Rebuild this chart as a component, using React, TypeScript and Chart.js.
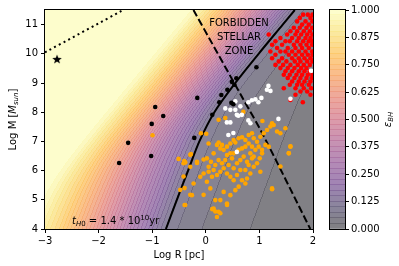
import React, { useEffect, useRef } from 'react';
import { Chart, registerables } from 'chart.js';

Chart.register(...registerables);

// ---------- axes / ticks ----------
const X_MIN = -3, X_MAX = 2, Y_MIN = 4, Y_MAX = 11.5;
const X_TICKS = [-3, -2, -1, 0, 1, 2];
const Y_TICKS = [4, 5, 6, 7, 8, 9, 10, 11];
const CB_TICKS = [0, 0.125, 0.25, 0.375, 0.5, 0.625, 0.75, 0.875, 1];
const CONTOUR_BANDS = 40;

// ---------- background field (two power-law terms, eps lookup) ----------
const TERM_GEOM = [1.5, -3.3, -11.772];   // coef logM, coef logR, const
const TERM_FOCUS = [0.5, -2.5, -3.86];
const G_KNOTS = [-12, -6.5, -3.95, -1.7, -0.57, 0, 0.5, 1, 1.5, 2, 2.5, 3, 3.5, 4, 4.5, 5, 5.5, 6, 6.5, 9];
const EPS_KNOTS = [0, 0.012, 0.025, 0.05, 0.075, 0.1, 0.16, 0.23, 0.3, 0.38, 0.46, 0.54, 0.62, 0.69, 0.76, 0.83, 0.89, 0.95, 0.99, 1.0];

// ---------- lines ----------
const SOLID_R = [-0.744, -0.54, -0.33, -0.12, 0.16, 0.55, 0.985, 1.435, 1.66];
const SOLID_M = [4, 5, 6, 7, 8, 9, 10, 11, 11.5];
const DASHED_R = [-0.23, 0.706, 1.05, 1.95];
const DASHED_M = [11.5, 8.42, 7.29, 4.0];
const DOTTED_R = [-3, -1.54];
const DOTTED_M = [10.05, 11.5];

// ---------- scatter groups ----------
const STAR_POINTS: [number, number][] = [[-2.776, 9.82]];
const BLACK_POINTS: [number, number][] = [
  [-0.944, 8.18], [-0.794, 7.87], [-1.009, 7.60], [-1.449, 6.95], [-1.617, 6.26], [-1.019, 6.50],
  [-0.159, 8.49], [-0.215, 7.12], [0.121, 7.91], [0.252, 8.34], [0.402, 8.77], [0.944, 9.54],
  [0.570, 9.16], [0.486, 9.04], [0.533, 8.94], [0.290, 8.59], [0.477, 8.32], [0.514, 8.27],
];
const WHITE_POINTS: [number, number][] = [
  [1.168, 8.90], [1.140, 8.77], [1.206, 8.73], [1.037, 8.49], [0.925, 8.44], [0.860, 8.41],
  [0.645, 8.20], [0.551, 8.08], [0.458, 8.08], [0.364, 8.13], [0.579, 7.91], [0.673, 7.91],
  [1.355, 7.77], [1.579, 8.46], [1.963, 9.42], [0.551, 8.37], [0.794, 8.34], [0.981, 8.34],
  [0.607, 7.88], [0.794, 7.72], [0.832, 7.62], [0.393, 7.65], [0.458, 7.65], [0.421, 7.22],
  [0.514, 7.29], [0.579, 6.64],
];
const ORANGE_POINTS: [number, number][] = [
  [-0.415, 6.25], [-0.402, 6.33], [-0.290, 6.13], [-0.165, 6.30], [-0.091, 7.28], [0.009, 7.26],
  [-0.041, 6.38], [0.021, 6.42], [0.096, 6.30], [0.053, 6.13], [0.146, 6.59], [0.208, 6.88],
  [0.239, 6.96], [0.271, 6.76], [0.302, 6.88], [0.333, 6.71], [0.395, 6.82], [0.458, 6.93],
  [0.520, 7.05], [0.551, 6.96], [0.613, 7.11], [0.676, 7.14], [0.738, 7.05], [0.800, 7.22],
  [0.862, 7.28], [0.894, 7.11], [0.956, 6.99], [1.018, 7.16], [1.081, 7.28], [1.143, 7.39],
  [1.205, 7.51], [1.236, 7.62], [1.267, 7.56], [1.330, 7.34], [1.392, 7.28], [1.485, 7.45],
  [1.579, 6.82], [1.548, 6.59], [1.174, 6.82], [1.112, 6.88], [1.049, 6.71], [1.006, 6.42],
  [1.018, 5.96], [0.956, 6.25], [0.894, 6.13], [0.831, 5.90], [0.769, 5.73], [0.738, 5.56],
  [0.676, 5.67], [0.613, 5.45], [0.551, 5.33], [0.458, 5.16], [0.395, 4.87], [0.333, 5.27],
  [0.271, 4.99], [0.177, 4.99], [0.146, 4.70], [0.208, 4.41], [0.239, 4.59], [0.084, 5.39],
  [0.021, 5.62], [-0.041, 5.90], [-0.103, 5.79], [-0.228, 5.56], [-0.259, 5.16], [-0.384, 4.82],
  [0.364, 6.36], [0.426, 6.19], [0.489, 6.42], [0.520, 6.08], [0.582, 6.25], [0.644, 6.36],
  [0.707, 6.48], [0.769, 6.30], [0.831, 6.59], [0.894, 6.48], [0.333, 6.08], [0.395, 5.90],
  [0.458, 5.79], [0.271, 5.96], [0.208, 5.85], [0.146, 6.02], [0.302, 6.25], [0.239, 6.36],
  [0.177, 6.19], [0.115, 5.79], [0.053, 5.96], [0.520, 5.67], [0.582, 5.85], [0.644, 6.02],
  [0.738, 6.02], [0.800, 6.19], [0.862, 6.42], [0.925, 6.71], [0.987, 6.82], [1.049, 6.59],
  [1.236, 5.39], [0.458, 6.59], [0.520, 6.59], [0.395, 6.53], [0.613, 6.71], [0.676, 6.76],
  [0.738, 6.82], [0.800, 6.93], [0.862, 6.82],
  [-0.994, 7.21], [-0.508, 6.40], [-0.383, 6.28], [-0.290, 6.54], [-0.164, 6.26], [-0.415, 5.80],
  [-0.477, 5.34], [-0.396, 5.40], [-0.290, 5.17], [-0.396, 4.82], [0.178, 4.60], [0.271, 4.54],
  [0.121, 4.68], [0.396, 4.82], [-0.041, 5.17], [1.237, 5.36], [1.579, 6.83], [1.548, 6.60],
  [1.393, 6.14], [0.239, 7.74], [0.052, 6.93], [-0.277, 6.57], [0.364, 7.80], [0.70, 8.01],
  [1.056, 7.70],
];
const RED_POINTS: [number, number][] = [
  [1.816, 11.34], [1.903, 11.34], [1.99, 11.34],
  [1.754, 11.23], [1.953, 11.23],
  [1.704, 11.11], [1.860, 11.11], [1.99, 11.11],
  [1.797, 11.00], [1.922, 11.00],
  [1.642, 10.89], [1.754, 10.89], [1.878, 10.89], [1.984, 10.89],
  [1.579, 10.77], [1.704, 10.77], [1.828, 10.77], [1.941, 10.77],
  [1.174, 10.66], [1.517, 10.66], [1.673, 10.66], [1.779, 10.66], [1.891, 10.66], [1.99, 10.66],
  [1.392, 10.54], [1.610, 10.54], [1.735, 10.54], [1.860, 10.54], [1.953, 10.54],
  [1.299, 10.43], [1.486, 10.43], [1.567, 10.43], [1.704, 10.43], [1.816, 10.43], [1.922, 10.43], [1.99, 10.43],
  [1.237, 10.31], [1.423, 10.31], [1.642, 10.31], [1.766, 10.31], [1.878, 10.31], [1.984, 10.31],
  [1.330, 10.20], [1.529, 10.20], [1.673, 10.20], [1.797, 10.20], [1.922, 10.20],
  [1.205, 10.08], [1.392, 10.08], [1.486, 10.08], [1.610, 10.08], [1.735, 10.08], [1.860, 10.08], [1.984, 10.08],
  [1.299, 9.97], [1.548, 9.97], [1.673, 9.97], [1.797, 9.97], [1.903, 9.97], [1.99, 9.97],
  [1.237, 9.85], [1.423, 9.85], [1.610, 9.85], [1.735, 9.85], [1.841, 9.85], [1.953, 9.85],
  [1.361, 9.74], [1.504, 9.74], [1.660, 9.74], [1.766, 9.74], [1.891, 9.74], [1.99, 9.74],
  [1.299, 9.62], [1.442, 9.62], [1.579, 9.62], [1.716, 9.62], [1.828, 9.62], [1.941, 9.62],
  [1.392, 9.51], [1.529, 9.51], [1.654, 9.51], [1.779, 9.51], [1.878, 9.51],
  [1.486, 9.40], [1.610, 9.40], [1.735, 9.40], [1.841, 9.40], [1.941, 9.40],
  [1.455, 9.28], [1.567, 9.28], [1.691, 9.28], [1.797, 9.28], [1.903, 9.28], [1.99, 9.28],
  [1.529, 9.17], [1.654, 9.17], [1.766, 9.17], [1.878, 9.17], [1.984, 9.17],
  [1.610, 9.05], [1.735, 9.05], [1.841, 9.05], [1.953, 9.05],
  [1.567, 8.94], [1.704, 8.94], [1.797, 8.94], [1.922, 8.94],
  [1.455, 8.82], [1.673, 8.82], [1.828, 8.82], [1.966, 8.82],
  [1.766, 8.71], [1.891, 8.71],
  [1.673, 8.60], [1.953, 8.60],
  [1.579, 8.42], [1.81, 8.34],
];

// ---------- annotations ----------
const ZONE_LINES = ['FORBIDDEN', 'STELLAR', 'ZONE'];
const ZONE_R = 0.62;
const ZONE_M = [10.94, 10.47, 9.99];
const TH_R = -2.496, TH_M = 4.17;

// ---------- colours ----------
const INFERNO = ['#000004', '#160b39', '#420a68', '#6a176e', '#932667', '#bc3754', '#dd513a', '#f37819', '#fca50a', '#f6d746', '#fcffa4'];
const INF_RGB = INFERNO.map(h => [parseInt(h.slice(1, 3), 16), parseInt(h.slice(3, 5), 16), parseInt(h.slice(5, 7), 16)]);
function inferno(t: number): number[] {
  const c = Math.max(0, Math.min(1, t)) * 10;
  const i = Math.min(9, Math.floor(c));
  const f = c - i;
  const a = INF_RGB[i], b = INF_RGB[i + 1];
  return [a[0] + (b[0] - a[0]) * f, a[1] + (b[1] - a[1]) * f, a[2] + (b[2] - a[2]) * f];
}
const FILL_ALPHA = 0.5;
const SEAM_ALPHA = 0.6;
function over(c: number[], a: number) { return c.map(v => Math.round(v * a + 255 * (1 - a))); }
const BAND_RGB: number[][] = [];
const SEAM_RGB: number[][] = [];
for (let k = 0; k < CONTOUR_BANDS; k++) {
  BAND_RGB.push(over(inferno((k + 0.5) / CONTOUR_BANDS), FILL_ALPHA));
  SEAM_RGB.push(over(inferno(k / CONTOUR_BANDS), SEAM_ALPHA));
}
const rgbStr = (c: number[]) => `rgb(${c[0]},${c[1]},${c[2]})`;

function interp(xs: number[], ys: number[], v: number) {
  if (v <= xs[0]) return ys[0];
  for (let i = 1; i < xs.length; i++) {
    if (v <= xs[i]) {
      const f = (v - xs[i - 1]) / (xs[i] - xs[i - 1]);
      return ys[i - 1] + (ys[i] - ys[i - 1]) * f;
    }
  }
  return ys[ys.length - 1];
}
function epsAt(R: number, M: number) {
  const t1 = TERM_GEOM[0] * M + TERM_GEOM[1] * R + TERM_GEOM[2];
  const t2 = TERM_FOCUS[0] * M + TERM_FOCUS[1] * R + TERM_FOCUS[2];
  const hi = Math.max(t1, t2), lo = Math.min(t1, t2);
  const g = hi + Math.log10(1 + Math.pow(10, lo - hi));
  return interp(G_KNOTS, EPS_KNOTS, g);
}
function bandOf(e: number) {
  return Math.max(0, Math.min(CONTOUR_BANDS - 1, Math.floor(e * CONTOUR_BANDS)));
}

const FONT = '"DejaVu Sans"';
type Part = { t: string; f: string; dy?: number };
function drawParts(ctx: CanvasRenderingContext2D, parts: Part[], x: number, y: number, center: boolean) {
  let total = 0;
  for (const p of parts) { ctx.font = p.f; total += ctx.measureText(p.t).width; }
  let cx = center ? x - total / 2 : x;
  ctx.textAlign = 'left';
  ctx.textBaseline = 'alphabetic';
  for (const p of parts) {
    ctx.font = p.f;
    ctx.fillText(p.t, cx, y + (p.dy || 0));
    cx += ctx.measureText(p.t).width;
  }
}

function makeStar(size: number) {
  const c = document.createElement('canvas');
  c.width = size; c.height = size;
  const g = c.getContext('2d')!;
  const r1 = size / 2, r2 = r1 * 0.42;
  g.beginPath();
  for (let i = 0; i < 10; i++) {
    const r = i % 2 === 0 ? r1 : r2;
    const a = -Math.PI / 2 + (i * Math.PI) / 5;
    const px = size / 2 + r * Math.cos(a), py = size / 2 + r * Math.sin(a) + size * 0.05;
    if (i === 0) g.moveTo(px, py); else g.lineTo(px, py);
  }
  g.closePath();
  g.fillStyle = '#000';
  g.fill();
  return c;
}

const fieldPlugin = {
  id: 'field',
  beforeDatasetsDraw(chart: any) {
    const { ctx, chartArea: a, scales } = chart;
    const xs = scales.x, ys = scales.y;
    const left = Math.round(a.left), top = Math.round(a.top);
    const w = Math.round(a.right) - left, h = Math.round(a.bottom) - top;
    const lev = new Int16Array(w * h);
    for (let j = 0; j < h; j++) {
      const M = ys.getValueForPixel(top + j + 0.5);
      for (let i = 0; i < w; i++) {
        const R = xs.getValueForPixel(left + i + 0.5);
        lev[j * w + i] = bandOf(epsAt(R, M));
      }
    }
    const img = ctx.createImageData(w, h);
    const d = img.data;
    for (let j = 0; j < h; j++) {
      for (let i = 0; i < w; i++) {
        const idx = j * w + i;
        const k = lev[idx];
        const kr = i < w - 1 ? lev[idx + 1] : k;
        const kd = j < h - 1 ? lev[idx + w] : k;
        let c: number[];
        if (kr !== k || kd !== k) {
          const b = Math.max(k, kr, kd);
          c = SEAM_RGB[b];
        } else c = BAND_RGB[k];
        d[idx * 4] = c[0]; d[idx * 4 + 1] = c[1]; d[idx * 4 + 2] = c[2]; d[idx * 4 + 3] = 255;
      }
    }
    ctx.putImageData(img, left, top);
  },
  afterDatasetsDraw(chart: any) {
    const { ctx, chartArea: a, scales } = chart;
    const xs = scales.x, ys = scales.y;
    ctx.save();
    ctx.fillStyle = '#000';
    ctx.font = `10px ${FONT}`;
    ctx.textAlign = 'center';
    ctx.textBaseline = 'alphabetic';
    ZONE_LINES.forEach((t, i) => ctx.fillText(t, xs.getPixelForValue(ZONE_R), ys.getPixelForValue(ZONE_M[i])));
    drawParts(ctx, [
      { t: 't', f: `italic 10px ${FONT}` },
      { t: 'H', f: `italic 7px ${FONT}`, dy: 2.2 },
      { t: '0', f: `7px ${FONT}`, dy: 2.2 },
      { t: ' = 1.4 * 10', f: `10px ${FONT}` },
      { t: '10', f: `7px ${FONT}`, dy: -4 },
      { t: 'yr', f: `10px ${FONT}` },
    ], xs.getPixelForValue(TH_R), ys.getPixelForValue(TH_M), false);
    ctx.strokeStyle = '#000';
    ctx.lineWidth = 1;
    ctx.strokeRect(Math.round(a.left) - 0.5, Math.round(a.top) - 0.5, Math.round(a.right) - Math.round(a.left) + 1, Math.round(a.bottom) - Math.round(a.top) + 1);
    ctx.restore();
  },
  afterDraw(chart: any) {
    const { ctx, chartArea: a } = chart;
    ctx.save();
    ctx.fillStyle = '#000';
    drawParts(ctx, [{ t: 'Log R [pc]', f: `10px ${FONT}` }], (a.left + a.right) / 2, 258, true);
    ctx.translate(16, (a.top + a.bottom) / 2);
    ctx.rotate(-Math.PI / 2);
    drawParts(ctx, [
      { t: 'Log M [', f: `10px ${FONT}` },
      { t: 'M', f: `italic 10px ${FONT}` },
      { t: 'sun', f: `italic 7px ${FONT}`, dy: 2.2 },
      { t: ']', f: `10px ${FONT}` },
    ], 0, 0, true);
    ctx.restore();
  },
};

const cbPlugin = {
  id: 'cbdecor',
  afterDatasetsDraw(chart: any) {
    const { ctx, chartArea: a, scales } = chart;
    const ys = scales.y;
    ctx.save();
    for (let b = 1; b < CONTOUR_BANDS; b++) {
      const py = Math.round(ys.getPixelForValue(b / CONTOUR_BANDS)) - 0.5;
      ctx.strokeStyle = rgbStr(SEAM_RGB[b]);
      ctx.lineWidth = 1;
      ctx.beginPath();
      ctx.moveTo(a.left, py);
      ctx.lineTo(a.right, py);
      ctx.stroke();
    }
    ctx.strokeStyle = '#000';
    ctx.strokeRect(Math.round(a.left) - 0.5, Math.round(a.top) - 0.5, Math.round(a.right) - Math.round(a.left) + 1, Math.round(a.bottom) - Math.round(a.top) + 1);
    ctx.fillStyle = '#000';
    ctx.translate(71, (a.top + a.bottom) / 2);
    ctx.rotate(-Math.PI / 2);
    drawParts(ctx, [
      { t: 'ε', f: `italic 10px ${FONT}` },
      { t: 'BH', f: `italic 7px ${FONT}`, dy: 2.2 },
    ], 0, 0, true);
    ctx.restore();
  },
};

const toXY = (pts: [number, number][]) => pts.map(([x, y]) => ({ x, y }));
const zipXY = (rs: number[], ms: number[]) => rs.map((r, i) => ({ x: r, y: ms[i] }));
const fmtMinus = (v: number) => String(v).replace('-', '\u2212');

export default function App() {
  const mainRef = useRef<HTMLCanvasElement>(null);
  const cbRef = useRef<HTMLCanvasElement>(null);

  useEffect(() => {
    Chart.defaults.font.family = FONT;
    const star = makeStar(10);
    const tickFont = { family: FONT, size: 10 };
    const pointDs = (label: string, pts: [number, number][], color: string, order: number) => ({
      label, data: toXY(pts), backgroundColor: color, borderWidth: 0,
      pointRadius: 2.3, pointHoverRadius: 2.3, showLine: false, order, clip: 0,
    });
    const lineDs = (label: string, rs: number[], ms: number[], dash: number[], order: number) => ({
      label, data: zipXY(rs, ms), borderColor: '#000', borderWidth: 2, borderDash: dash,
      pointRadius: 0, showLine: true, fill: false, tension: 0.3, order, clip: 0, borderCapStyle: 'butt',
    });

    const main = new Chart(mainRef.current!, {
      type: 'scatter',
      data: {
        datasets: [
          { label: 'star', data: toXY(STAR_POINTS), pointStyle: star as any, pointRadius: 5, borderWidth: 0, backgroundColor: '#000', order: 0, clip: 0 } as any,
          pointDs('black', BLACK_POINTS, '#000000', 1),
          pointDs('white', WHITE_POINTS, '#ffffff', 2),
          pointDs('orange', ORANGE_POINTS, '#ffa500', 3),
          pointDs('red', RED_POINTS, '#ff0000', 4),
          lineDs('solid', SOLID_R, SOLID_M, [], 10),
          lineDs('dashed', DASHED_R, DASHED_M, [7.4, 3.2], 11),
          lineDs('dotted', DOTTED_R, DOTTED_M, [2, 3.3], 12),
        ] as any,
      },
      options: {
        animation: false,
        responsive: false,
        devicePixelRatio: 1,
        events: [],
        layout: { padding: { left: 0, right: 86, top: 10, bottom: 0 } },
        plugins: { legend: { display: false }, tooltip: { enabled: false } },
        scales: {
          x: {
            type: 'linear', min: X_MIN, max: X_MAX,
            afterBuildTicks: (s: any) => { s.ticks = X_TICKS.map(v => ({ value: v })); },
            afterFit: (s: any) => { s.height = 37; },
            ticks: { font: tickFont, color: '#000', padding: 2, maxRotation: 0, callback: (v: any) => fmtMinus(v) },
            grid: { display: true, drawOnChartArea: false, drawTicks: true, tickLength: 4, color: '#000' },
            border: { display: false },
          },
          y: {
            type: 'linear', min: Y_MIN, max: Y_MAX,
            afterBuildTicks: (s: any) => { s.ticks = Y_TICKS.map(v => ({ value: v })); },
            afterFit: (s: any) => { s.width = 45; },
            ticks: { font: tickFont, color: '#000', padding: 3, callback: (v: any) => fmtMinus(v) },
            grid: { display: true, drawOnChartArea: false, drawTicks: true, tickLength: 4, color: '#000' },
            border: { display: false },
          },
        },
      } as any,
      plugins: [fieldPlugin as any],
    });

    const cbDatasets = BAND_RGB.map((c, k) => ({
      label: 'b' + k, data: [1 / CONTOUR_BANDS], backgroundColor: rgbStr(c), borderWidth: 0,
      barPercentage: 1, categoryPercentage: 1,
    }));
    const cb = new Chart(cbRef.current!, {
      type: 'bar',
      data: { labels: ['eps'], datasets: cbDatasets as any },
      options: {
        animation: false,
        responsive: false,
        devicePixelRatio: 1,
        events: [],
        layout: { padding: { left: 10, right: 0, top: 10, bottom: 37 } },
        plugins: { legend: { display: false }, tooltip: { enabled: false } },
        scales: {
          x: { display: false, stacked: true },
          y: {
            position: 'right', stacked: true, min: 0, max: 1,
            afterBuildTicks: (s: any) => { s.ticks = CB_TICKS.map(v => ({ value: v })); },
            afterFit: (s: any) => { s.width = 54; },
            ticks: { font: tickFont, color: '#000', padding: 2, callback: (v: any) => Number(v).toFixed(3) },
            grid: { display: true, drawOnChartArea: false, drawTicks: true, tickLength: 4, color: '#000' },
            border: { display: false },
          },
        },
      } as any,
      plugins: [cbPlugin as any],
    });

    return () => { main.destroy(); cb.destroy(); };
  }, []);

  return (
    <div style={{ position: 'fixed', left: 0, top: 0, width: 399, height: 266, background: '#fff' }}>
      <canvas ref={mainRef} width={399} height={266} style={{ position: 'absolute', left: 0, top: 0, width: 399, height: 266 }} />
      <canvas ref={cbRef} width={79} height={266} style={{ position: 'absolute', left: 320, top: 0, width: 79, height: 266 }} />
    </div>
  );
}
